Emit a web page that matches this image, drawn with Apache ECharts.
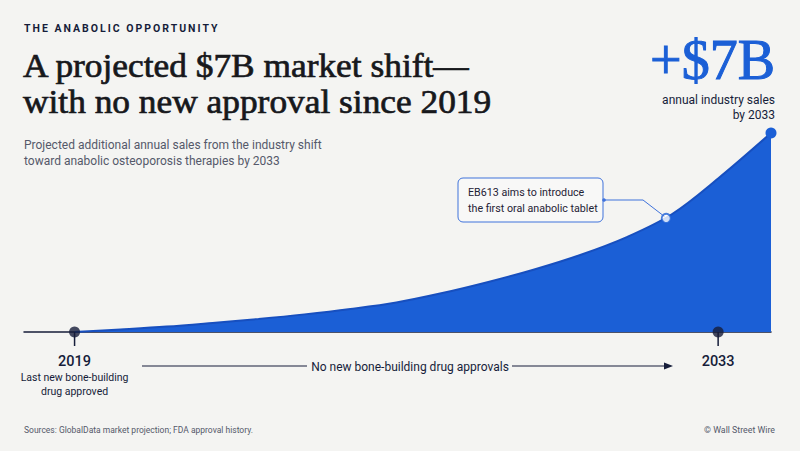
<!DOCTYPE html>
<html><head><meta charset="utf-8">
<script src="https://cdn.jsdelivr.net/npm/echarts@6/dist/echarts.min.js"></script>
<style>html,body{margin:0;padding:0;background:#f4f4f2;}#c{width:800px;height:451px;}</style>
</head><body><div id="c"></div><script>
// ---- data ----
const years = [2019, 2020, 2021, 2022, 2023, 2024, 2025, 2026, 2027, 2028, 2029, 2030, 2031, 2032, 2033, 2034.15];
const sales = [0, 0.09, 0.19, 0.32, 0.46, 0.62, 0.81, 1.04, 1.37, 1.76, 2.2, 2.71, 3.33, 4.15, 5.4, 7.0];
const milestoneYears = [2019, 2033];
const milestoneLabels = ['2019', '2033'];
const annotationPoint = [2031.87, 4.0];
const annotationText = 'EB613 aims to introduce\nthe first oral anabolic tablet';
const kicker = 'THE ANABOLIC OPPORTUNITY';
const titleLines = ['A projected $7B market shift—', 'with no new approval since 2019'];

const BLUE = '#1b5fd6', NAVY = '#161d3a', GREY = '#55596a';
const SANS = 'Roboto, "Noto Sans", sans-serif';
const SERIF = '"Liberation Serif", "DejaVu Serif", serif';

const chart = echarts.init(document.getElementById('c'), null, {renderer: 'svg'});
const curve = years.map((y, i) => [y, sales[i]]);

chart.setOption({
  backgroundColor: '#f4f4f2',
  animation: false,
  grid: {left: 24, right: 29, top: 133, bottom: 119},
  xAxis: {type: 'value', min: 2017.9, max: 2034.15, show: true,
    axisLine: {show: true, onZero: true, lineStyle: {color: NAVY, width: 1.5}},
    axisTick: {show: false}, axisLabel: {show: false}, splitLine: {show: false}},
  yAxis: {type: 'value', min: 0, max: 7, show: false},
  series: [
    {type: 'line', data: curve, smooth: 0.35, clip: false, z: 2,
      lineStyle: {color: '#174fbf', width: 2},
      areaStyle: {color: BLUE, opacity: 1},
      symbol: 'none',
      markPoint: {symbol: 'circle', symbolSize: 11, silent: true,
        itemStyle: {color: BLUE},
        label: {show: false},
        data: [{coord: [years[years.length - 1], sales[sales.length - 1]]}]}
    },
    {type: 'scatter', data: [annotationPoint], symbol: 'circle', symbolSize: 9, z: 5,
      itemStyle: {color: '#ffffff', borderColor: BLUE, borderWidth: 1.8}},
    {type: 'scatter', data: milestoneYears.map(y => [y, 0]), symbol: 'circle', symbolSize: 11, z: 6, clip: false,
      itemStyle: {color: NAVY}}
  ]
});

function px(p) { return chart.convertToPixel({gridIndex: 0}, p); }
const g = [];
// header
g.push({type: 'text', style: {text: kicker, x: 24, y: 28, fill: NAVY,
  font: 'bold 10.5px ' + SANS, textVerticalAlign: 'middle'}});
titleLines.forEach((t, i) => {
  g.push({type: 'text', x: 23, y: 66 + i * 36, scaleX: 1.04, originX: 0,
    style: {text: t, x: 0, y: 0, fill: '#17181c', stroke: '#17181c', lineWidth: 0.7,
      font: '34px ' + SERIF, textVerticalAlign: 'middle'}});
});
g.push({type: 'text', style: {text: 'Projected additional annual sales from the industry shift\ntoward anabolic osteoporosis therapies by 2033', x: 24, y: 137, fill: GREY,
  font: '12px ' + SANS, lineHeight: 16}});
// big number
g.push({type: 'text', style: {text: '+$7B', x: 775, y: 88, fill: BLUE, stroke: BLUE, lineWidth: 1, font: '56px ' + SERIF, textAlign: 'right', textVerticalAlign: 'bottom'}});
g.push({type: 'text', style: {text: 'annual industry sales\nby 2033', x: 775, y: 92, fill: NAVY, font: '12px ' + SANS, textAlign: 'right', lineHeight: 15}});
// milestone ticks & labels
milestoneYears.forEach((yr, i) => {
  const p = px([yr, 0]);
  g.push({type: 'line', shape: {x1: p[0], y1: p[1], x2: p[0], y2: p[1] + 14}, style: {stroke: NAVY, lineWidth: 1.5}, z: 5});
  g.push({type: 'text', style: {text: milestoneLabels[i], x: p[0], y: p[1] + 29, fill: NAVY, font: '500 14.5px ' + SANS, textAlign: 'center', textVerticalAlign: 'middle'}});
});
const p19 = px([milestoneYears[0], 0]);
g.push({type: 'text', style: {text: 'Last new bone-building\ndrug approved', x: p19[0], y: p19[1] + 38, fill: NAVY, font: '10.5px ' + SANS, textAlign: 'center', lineHeight: 14}});
// arrow span
const ay = 366;
g.push({type: 'line', shape: {x1: 142, y1: ay, x2: 307, y2: ay}, style: {stroke: NAVY, lineWidth: 1.2}});
g.push({type: 'text', style: {text: 'No new bone-building drug approvals', x: 410, y: ay + 1, fill: NAVY, font: '12px ' + SANS, textAlign: 'center', textVerticalAlign: 'middle'}});
g.push({type: 'line', shape: {x1: 512, y1: ay, x2: 668, y2: ay}, style: {stroke: NAVY, lineWidth: 1.2}});
g.push({type: 'polygon', shape: {points: [[673, ay], [664, ay - 3.5], [664, ay + 3.5]]}, style: {fill: NAVY}});
// annotation
const ap = px(annotationPoint);
g.push({type: 'rect', shape: {x: 458, y: 178, width: 145, height: 44, r: 5}, style: {fill: '#f8f8f7', stroke: '#3f72db', lineWidth: 1}, z: 10});
g.push({type: 'text', style: {text: annotationText, x: 468, y: 200, fill: '#1f2235', font: '10.7px ' + SANS, lineHeight: 16, textVerticalAlign: 'middle'}, z: 11});
g.push({type: 'polyline', shape: {points: [[603, 200], [643, 200], [ap[0] - 2, ap[1] - 2]]}, style: {stroke: '#3f72db', lineWidth: 1, fill: null}, z: 10});
g.push({type: 'circle', shape: {cx: 604, cy: 200, r: 1.8}, style: {fill: '#3f72db'}, z: 11});
// footer
g.push({type: 'text', style: {text: 'Sources: GlobalData market projection; FDA approval history.', x: 24, y: 430, fill: GREY, font: '8.5px ' + SANS, textVerticalAlign: 'middle'}});
g.push({type: 'text', style: {text: '© Wall Street Wire', x: 775, y: 430, fill: GREY, font: '8.8px ' + SANS, textAlign: 'right', textVerticalAlign: 'middle'}});

chart.setOption({graphic: g});

// letter-spacing for the kicker label (SVG text)
document.querySelectorAll('#c svg text').forEach(t => {
  if (t.textContent === kicker) t.style.letterSpacing = '2px';
});
</script></body></html>
